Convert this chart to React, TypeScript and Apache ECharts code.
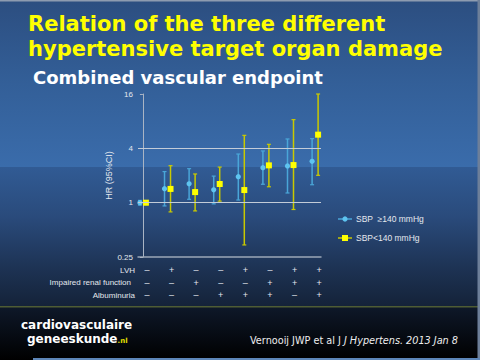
import React, { useEffect, useRef } from "react";
import * as echarts from "echarts";

// ---- data ----
const yTicks = [0.25, 1, 4, 16];
const refLines = [1, 4];
const lvh = ["–", "+", "–", "–", "+", "–", "+", "+"];
const renal = ["–", "–", "+", "–", "–", "+", "+", "+"];
const albu = ["–", "–", "–", "+", "+", "+", "–", "+"];
const rowLabels = ["LVH", "Impaired renal function", "Albuminuria"];

// SBP >= 140 mmHg
const hrHigh = [1.0, 1.43, 1.62, 1.39, 1.94, 2.44, 2.55, 2.87];
const loHigh = [0.94, 0.92, 1.09, 0.97, 1.07, 1.6, 1.28, 1.58];
const upHigh = [1.06, 2.21, 2.38, 1.97, 3.46, 3.74, 5.08, 5.12];
// SBP < 140 mmHg
const hrLow = [1.0, 1.42, 1.31, 1.61, 1.38, 2.59, 2.61, 5.67];
const loLow = [0.95, 0.79, 0.81, 1.04, 0.34, 1.5, 0.84, 2.01];
const upLow = [1.05, 2.57, 2.08, 2.48, 5.57, 4.43, 8.32, 16];

const legendHigh = "SBP  ≥140 mmHg";
const legendLow = "SBP<140 mmHg";

const BLUE = "#5ec4f0";
const BLUE_BAR = "#4aa6d8";
const YEL = "#ffff00";
const YEL_BAR = "#c9c900";
const TXT = "#e4e8ee";

function errRender(off: number, barColor: string, kind: "circle" | "square") {
  return (params: any, api: any) => {
    const x = api.value(0);
    const p = api.coord([x, api.value(1)]);
    const pl = api.coord([x, api.value(2)]);
    const ph = api.coord([x, api.value(3)]);
    const cx = p[0] + off;
    const cap = 2;
    const children: any[] = [
      { type: "line", shape: { x1: cx, y1: ph[1], x2: cx, y2: pl[1] }, style: { stroke: barColor, lineWidth: 1.5 } },
      { type: "line", shape: { x1: cx - cap, y1: ph[1], x2: cx + cap, y2: ph[1] }, style: { stroke: barColor, lineWidth: 1.2 } },
      { type: "line", shape: { x1: cx - cap, y1: pl[1], x2: cx + cap, y2: pl[1] }, style: { stroke: barColor, lineWidth: 1.2 } },
    ];
    if (kind === "circle") {
      children.push({ type: "circle", shape: { cx, cy: p[1], r: 2.6 }, style: { fill: BLUE } });
    } else {
      children.push({ type: "rect", shape: { x: cx - 3, y: p[1] - 3, width: 6, height: 6 }, style: { fill: YEL } });
    }
    return { type: "group", children };
  };
}

export default function App() {
  const ref = useRef<HTMLDivElement>(null);
  useEffect(() => {
    document.body.style.margin = "0";
    const chart = echarts.init(ref.current!, null, { renderer: "svg" });
    const lbl = { fontFamily: "Liberation Sans", fontSize: 8, fill: TXT };
    const option: any = {
      animation: false,
      grid: { left: 138, top: 94, right: 159, bottom: 103 },
      xAxis: {
        type: "value",
        min: -0.2,
        max: 7.24,
        axisLabel: { show: false },
        axisTick: { show: false },
        splitLine: { show: false },
        axisLine: { show: true, onZero: false, lineStyle: { color: "#9aa6b6", width: 1.5 } },
      },
      yAxis: {
        type: "log",
        logBase: 4,
        min: yTicks[0],
        max: yTicks[yTicks.length - 1],
        name: "HR (95%CI)",
        nameLocation: "middle",
        nameGap: 16,
        nameRotate: 90,
        nameTextStyle: { color: TXT, fontFamily: "Liberation Sans", fontSize: 9 },
        axisLine: { show: true, lineStyle: { color: "#a9b4c4", width: 1 } },
        axisTick: { show: true, length: 3, lineStyle: { color: "#a9b4c4" } },
        splitLine: { show: false },
        axisLabel: {
          color: TXT,
          fontFamily: "Liberation Sans",
          fontSize: 8,
          margin: 5,
          formatter: (v: number) => String(+v.toFixed(2)),
        },
      },
      series: [
        {
          type: "custom",
          name: legendHigh,
          renderItem: errRender(-3, BLUE_BAR, "circle"),
          data: hrHigh.map((v, i) => [i, v, loHigh[i], upHigh[i]]),
          z: 3,
          markLine: {
            silent: true,
            symbol: "none",
            label: { show: false },
            lineStyle: { color: "#c3ccd8", width: 1, type: "solid" },
            data: refLines.map((v) => ({ yAxis: v })),
          },
        },
        {
          type: "custom",
          name: legendLow,
          renderItem: errRender(3, YEL_BAR, "square"),
          data: hrLow.map((v, i) => [i, v, loLow[i], upLow[i]]),
          z: 4,
        },
        {
          type: "custom",
          name: "signs",
          silent: true,
          renderItem: (params: any, api: any) => {
            const i = api.value(0);
            const p = api.coord([i, yTicks[0]]);
            const x = p[0] + 4;
            const rows = [lvh[i], renal[i], albu[i]];
            return {
              type: "group",
              children: rows.map((s, r) => ({
                type: "text",
                x,
                y: p[1] + 13 + r * 12.6,
                style: { text: s, fill: TXT, fontFamily: "Liberation Sans", fontSize: 9, align: "center", verticalAlign: "middle" },
              })),
            };
          },
          data: lvh.map((_, i) => [i, yTicks[0]]),
        },
      ],
      graphic: [
        // background
        { type: "rect", z: -10, shape: { x: 0, y: 0, width: 480, height: 167 },
          style: { fill: new echarts.graphic.LinearGradient(0, 0, 0, 1, [
            { offset: 0, color: "#2c4e80" }, { offset: 0.5, color: "#335f98" }, { offset: 1, color: "#3a6cab" }]) } },
        { type: "rect", z: -10, shape: { x: 0, y: 167, width: 480, height: 140 },
          style: { fill: new echarts.graphic.LinearGradient(0, 0, 0, 1, [
            { offset: 0, color: "#315b94" }, { offset: 0.35, color: "#2a4b7c" }, { offset: 0.7, color: "#1e3456" }, { offset: 1, color: "#142238" }]) } },
        { type: "rect", z: -10, shape: { x: 0, y: 307, width: 480, height: 53 },
          style: { fill: new echarts.graphic.LinearGradient(0, 0, 0, 1, [
            { offset: 0, color: "#0e1829" }, { offset: 1, color: "#000000" }]) } },
        { type: "rect", z: -9, shape: { x: 0, y: 306, width: 480, height: 1.5 }, style: { fill: "#4e5c34" } },
        { type: "rect", z: -9, shape: { x: 0, y: 0, width: 480, height: 1.5 }, style: { fill: "#8d9bb0" } },
        { type: "rect", z: -9, shape: { x: 477.5, y: 0, width: 2.5, height: 360 }, style: { fill: "#6d7f99" } },
        { type: "rect", z: -9, shape: { x: 33, y: 358, width: 447, height: 2 }, style: { fill: "#5d86b8" } },
        // titles
        { type: "text", x: 28, y: 23.5, style: { text: "Relation of the three different", fill: "#ffff00", fontFamily: "DejaVu Sans", fontWeight: "bold", fontSize: 21, verticalAlign: "middle" } },
        { type: "text", x: 28, y: 48.5, style: { text: "hypertensive target organ damage", fill: "#ffff00", fontFamily: "DejaVu Sans", fontWeight: "bold", fontSize: 21, verticalAlign: "middle" } },
        { type: "text", x: 33, y: 77, style: { text: "Combined vascular endpoint", fill: "#ffffff", fontFamily: "DejaVu Sans", fontWeight: "bold", fontSize: 18, verticalAlign: "middle" } },
        // row labels of sign table
        ...rowLabels.map((t, r) => ({
          type: "text", x: r === 1 ? 131 : 135, y: 270 + r * 12.6,
          style: { ...lbl, text: t, align: "right", verticalAlign: "middle" },
        })),
        // legend
        { type: "line", shape: { x1: 338, y1: 219, x2: 352, y2: 219 }, style: { stroke: BLUE_BAR, lineWidth: 1.5 } },
        { type: "circle", shape: { cx: 345, cy: 219, r: 2.6 }, style: { fill: BLUE } },
        { type: "text", x: 356, y: 219, style: { ...lbl, fontSize: 8.5, text: legendHigh, verticalAlign: "middle" } },
        { type: "line", shape: { x1: 338, y1: 238, x2: 352, y2: 238 }, style: { stroke: YEL_BAR, lineWidth: 1.5 } },
        { type: "rect", shape: { x: 342, y: 235, width: 6, height: 6 }, style: { fill: YEL } },
        { type: "text", x: 356, y: 238, style: { ...lbl, fontSize: 8.5, text: legendLow, verticalAlign: "middle" } },
        // footer
        { type: "text", x: 21, y: 325, style: { text: "cardiovasculaire", fill: "#ffffff", fontFamily: "DejaVu Sans", fontWeight: "bold", fontSize: 12, verticalAlign: "middle" } },
        { type: "text", x: 27, y: 338.5, style: { text: "{a|geneeskunde}{b|.nl}", fontFamily: "DejaVu Sans", verticalAlign: "middle",
          rich: { a: { fill: "#ffffff", fontWeight: "bold", fontSize: 12, fontFamily: "DejaVu Sans" }, b: { fill: "#e8e000", fontWeight: "bold", fontSize: 7, fontFamily: "DejaVu Sans", verticalAlign: "bottom" } } } },
        { type: "text", x: 250, y: 340, style: { text: "{a|Vernooij JWP et al J }{b|J Hypertens. 2013 Jan 8}", verticalAlign: "middle",
          rich: { a: { fill: "#eeeeee", fontSize: 9.7, fontFamily: "DejaVu Sans" }, b: { fill: "#eeeeee", fontSize: 9.7, fontStyle: "italic", fontFamily: "DejaVu Sans" } } } },
      ],
    };
    chart.setOption(option);
    return () => chart.dispose();
  }, []);
  return <div ref={ref} style={{ width: 480, height: 360 }} />;
}
